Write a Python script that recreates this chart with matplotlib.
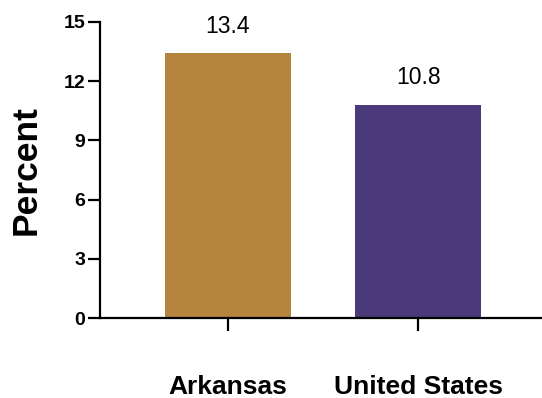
import numpy as np
import matplotlib
matplotlib.use("Agg")
import matplotlib.pyplot as plt

plt.rcParams['font.family'] = ['Liberation Sans', 'DejaVu Sans']

categories = ["Arkansas", "United States"]
values = [13.4, 10.8]
value_labels = ["13.4", "10.8"]
colors = ["#B5843F", "#4B3A7A"]
yticks = [0, 3, 6, 9, 12, 15]

fig = plt.figure(figsize=(5.42, 3.98), dpi=100)
ax = fig.add_axes([0.1845, 0.2003, 0.8155, 0.7452])

x = np.arange(len(categories))
ax.bar(x, values, width=0.661, color=colors, edgecolor='none', zorder=1)

for xi, v, lab in zip(x, values, value_labels):
    ax.annotate(lab, (xi, v), xytext=(0, 19.5), textcoords='offset points',
                ha='center', va='center', fontsize=16.5)

ax.set_xlim(-0.670, 1.649)
ax.set_ylim(0, 15)
ax.set_yticks(yticks)
ax.set_yticklabels([str(t) for t in yticks], fontsize=14, fontweight='bold')
ax.set_xticks(x)
ax.set_xticklabels(categories, fontsize=19, fontweight='bold')
ax.tick_params(axis='x', length=9.5, width=1.6, pad=31)
ax.tick_params(axis='y', length=8.5, width=1.6, pad=2)

ax.set_ylabel("Percent", fontsize=25.5, fontweight='bold', labelpad=15)

for s in ['top', 'right']:
    ax.spines[s].set_visible(False)
for s in ['left', 'bottom']:
    ax.spines[s].set_linewidth(1.6)
    ax.spines[s].set_zorder(3)

fig.savefig("out.png", dpi=100)
